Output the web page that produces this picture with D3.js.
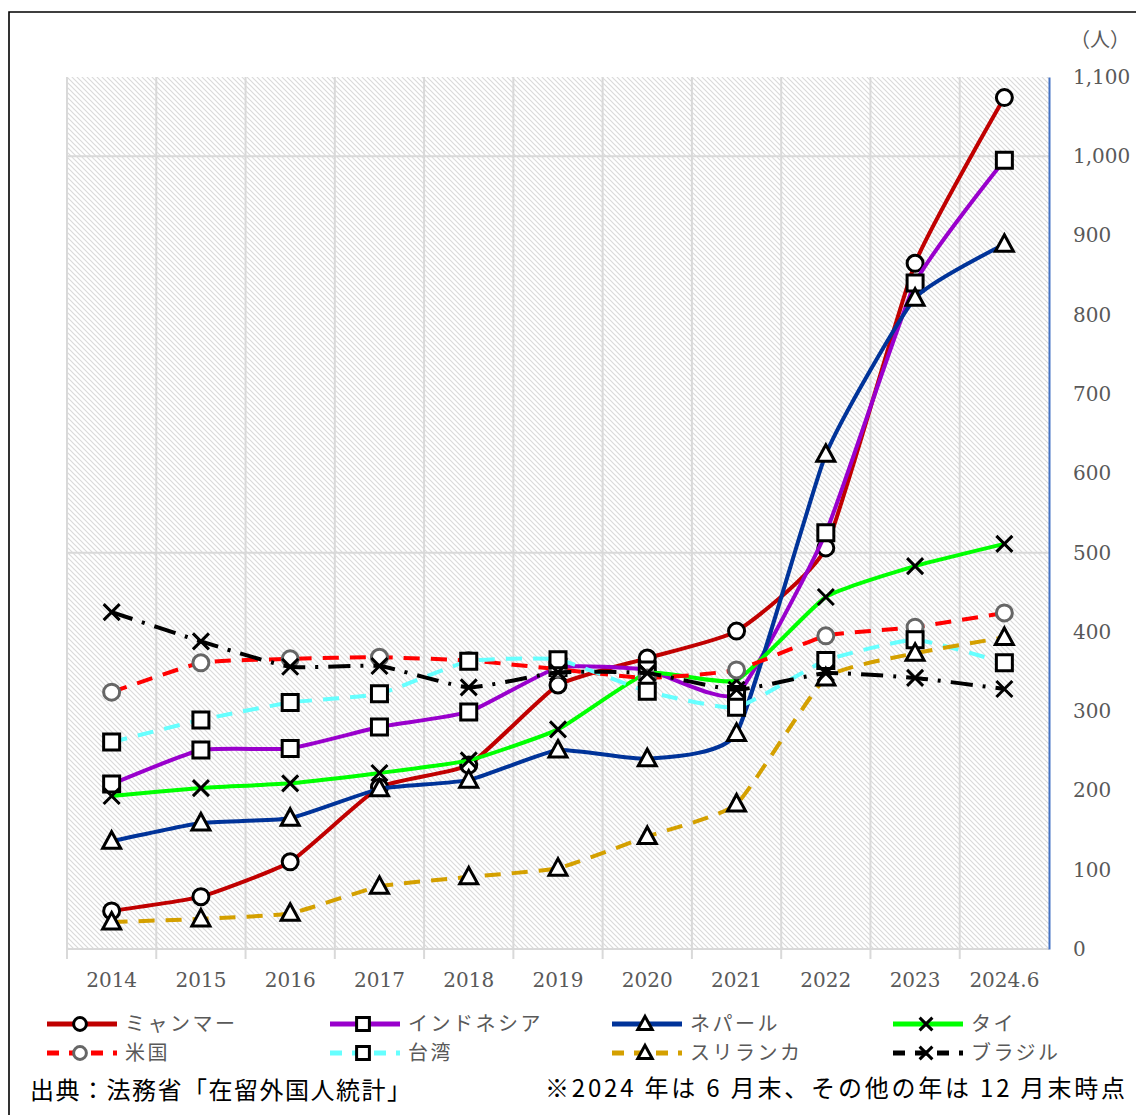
<!DOCTYPE html>
<html>
<head>
<meta charset="utf-8">
<script src="https://cdn.jsdelivr.net/npm/d3@7"></script>
<style>
  body { margin: 0; background: #fff; }
  svg { display: block; }
  .tick-label { font-family: "DejaVu Serif", "Liberation Serif", serif; font-size: 20px; fill: #595959; }
  .jp { font-family: "Noto Sans CJK JP", sans-serif; }
</style>
</head>
<body>
<svg id="chart" width="1136" height="1115"></svg>
<script>
// categories (x axis)
var years = ["2014", "2015", "2016", "2017", "2018", "2019", "2020", "2021", "2022", "2023", "2024.6"];
// y axis ticks
var yTicks = [0, 100, 200, 300, 400, 500, 600, 700, 800, 900, 1000, 1100];
var gridValues = [500, 1000];

// series values
var myanmar   = [48, 66, 110, 204, 232, 333, 367, 401, 506, 865, 1074];
var indonesia = [208, 251, 253, 280, 299, 355, 352, 321, 525, 840, 995];
var nepal     = [136, 159, 165, 202, 213, 251, 240, 272, 624, 821, 889];
var thai      = [193, 203, 209, 222, 238, 277, 348, 339, 444, 483, 511];
var usa       = [324, 361, 366, 368, 364, 353, 342, 352, 395, 406, 424];
var taiwan    = [261, 289, 311, 322, 363, 365, 325, 305, 364, 390, 361];
var srilanka  = [34, 38, 45, 79, 91, 102, 142, 183, 342, 373, 393];
var brazil    = [425, 388, 356, 357, 330, 349, 348, 327, 348, 342, 328];

var seriesNames = ["ミャンマー", "インドネシア", "ネパール", "タイ", "米国", "台湾", "スリランカ", "ブラジル"];

var series = [
  {name: seriesNames[0], values: myanmar,   color: "#C00000", dash: null,          marker: "circle",   mstroke: "#000"},
  {name: seriesNames[1], values: indonesia, color: "#9900CC", dash: null,          marker: "square",   mstroke: "#000"},
  {name: seriesNames[2], values: nepal,     color: "#003399", dash: null,          marker: "triangle", mstroke: "#000"},
  {name: seriesNames[3], values: thai,      color: "#00FF00", dash: null,          marker: "x",        mstroke: "#000"},
  {name: seriesNames[4], values: usa,       color: "#FF0000", dash: "16,11",       marker: "circle",   mstroke: "#666"},
  {name: seriesNames[5], values: taiwan,    color: "#66FFFF", dash: "16,11",       marker: "square",   mstroke: "#000"},
  {name: seriesNames[6], values: srilanka,  color: "#D4A000", dash: "16,11",       marker: "triangle", mstroke: "#000"},
  {name: seriesNames[7], values: brazil,    color: "#000000", dash: "22,10,3,10",  marker: "x",        mstroke: "#000"}
];

(function() {
var svg = d3.select("#chart");
var pLeft = 67, pRight = 1049, pTop = 77, pBottom = 949;

var x = d3.scaleBand().domain(years).range([pLeft, pRight]);
var y = d3.scaleLinear().domain([0, 1100]).range([pBottom, pTop]);

// hatch pattern for the plot background
var defs = svg.append("defs");
var pat = defs.append("pattern")
  .attr("id", "hatch")
  .attr("patternUnits", "userSpaceOnUse")
  .attr("width", 5).attr("height", 5);
pat.append("path")
  .attr("d", "M-1,-1L6,6M-1,4L1,6M4,-1L6,1")
  .attr("stroke", "#dadada").attr("stroke-width", 1.2);

// outer frame (cut off at the top and right like the source)
svg.append("path")
  .attr("d", "M9,1115V12H1136")
  .attr("fill", "none").attr("stroke", "#000").attr("stroke-width", 1.6);

svg.append("rect")
  .attr("x", pLeft).attr("y", pTop)
  .attr("width", pRight - pLeft).attr("height", pBottom - pTop)
  .attr("fill", "url(#hatch)");

// vertical grid lines at band edges, with small ticks below the axis
var edges = years.map(function(d) { return x(d); });
svg.append("g").selectAll("line")
  .data(edges)
  .enter().append("line")
  .attr("x1", d => d).attr("x2", d => d)
  .attr("y1", pTop).attr("y2", pBottom + 10)
  .attr("stroke", "#d9d9d9").attr("stroke-width", 2);

// horizontal grid lines
svg.append("g").selectAll("line")
  .data(gridValues)
  .enter().append("line")
  .attr("x1", pLeft).attr("x2", pRight)
  .attr("y1", d => y(d)).attr("y2", d => y(d))
  .attr("stroke", "#d9d9d9").attr("stroke-width", 2);

// x axis line
svg.append("line")
  .attr("x1", pLeft).attr("x2", pRight)
  .attr("y1", pBottom).attr("y2", pBottom)
  .attr("stroke", "#d9d9d9").attr("stroke-width", 2);

// right value axis
var yAxis = d3.axisRight(y).tickValues(yTicks).tickFormat(d3.format(",")).tickSize(0).tickPadding(24);
var ga = svg.append("g").attr("transform", "translate(" + pRight + ",0)").call(yAxis);
ga.select(".domain").attr("stroke", "#4472C4").attr("stroke-width", 2);
ga.selectAll("text").attr("class", "tick-label");

// category labels
var xAxis = d3.axisBottom(x).tickSize(0).tickPadding(24);
var gx = svg.append("g").attr("transform", "translate(0," + pBottom + ")").call(xAxis);
gx.select(".domain").remove();
gx.selectAll("text").attr("class", "tick-label");

svg.append("text")
  .attr("x", 1100).attr("y", 47)
  .attr("text-anchor", "middle")
  .attr("class", "jp")
  .attr("font-size", 20).attr("fill", "#595959")
  .text("（人）");

// markers
function markerPath(type) {
  if (type === "circle") return d3.symbol(d3.symbolCircle, Math.PI * 8 * 8)();
  if (type === "square") return d3.symbol(d3.symbolSquare, 16 * 16)();
  if (type === "triangle") return "M0,-9.5L9,7L-9,7Z";
  return "M-8,-8L8,8M-8,8L8,-8";
}

function drawMarker(g, type, stroke, cx, cy, scale) {
  g.append("path")
    .attr("d", markerPath(type))
    .attr("transform", "translate(" + cx + "," + cy + ") scale(" + scale + ")")
    .attr("fill", type === "x" ? "none" : "#fff")
    .attr("stroke", stroke)
    .attr("stroke-width", 3 / scale);
}

var line = d3.line()
  .x(function(d, i) { return x(years[i]) + x.bandwidth() / 2; })
  .y(function(d) { return y(d); })
  .curve(d3.curveCardinal.tension(0.55));

series.forEach(function(s) {
  var g = svg.append("g");
  g.append("path")
    .datum(s.values)
    .attr("d", line)
    .attr("fill", "none")
    .attr("stroke", s.color)
    .attr("stroke-width", 4)
    .attr("stroke-dasharray", s.dash)
    .attr("stroke-linejoin", "round");
  s.values.forEach(function(v, i) {
    drawMarker(g, s.marker, s.mstroke, x(years[i]) + x.bandwidth() / 2, y(v), 1);
  });
});

// legend
var legCols = [47, 330, 612, 893];
var legRows = [1024, 1053];
var leg = svg.append("g");
series.forEach(function(s, i) {
  var lx = legCols[i % 4], ly = legRows[Math.floor(i / 4)];
  var g = leg.append("g");
  g.append("line")
    .attr("x1", lx).attr("x2", lx + 70)
    .attr("y1", ly).attr("y2", ly)
    .attr("stroke", s.color).attr("stroke-width", 5)
    .attr("stroke-dasharray", s.dash ? "12,10" : null);
  drawMarker(g, s.marker, s.mstroke, lx + 33, ly, 0.8);
  g.append("text")
    .attr("x", lx + 78).attr("y", ly + 7)
    .attr("class", "jp")
    .attr("font-size", 20).attr("fill", "#595959")
    .attr("letter-spacing", 2.5)
    .text(s.name);
});

// notes
svg.append("text")
  .attr("x", 30).attr("y", 1099)
  .attr("class", "jp")
  .attr("font-size", 24).attr("fill", "#000")
  .attr("letter-spacing", 1.5)
  .text("出典：法務省「在留外国人統計」");
svg.append("text")
  .attr("x", 545).attr("y", 1097)
  .attr("class", "jp")
  .attr("font-size", 24).attr("fill", "#000")
  .attr("textLength", 580)
  .text("※2024 年は 6 月末、その他の年は 12 月末時点");
})();
</script>
</body>
</html>
